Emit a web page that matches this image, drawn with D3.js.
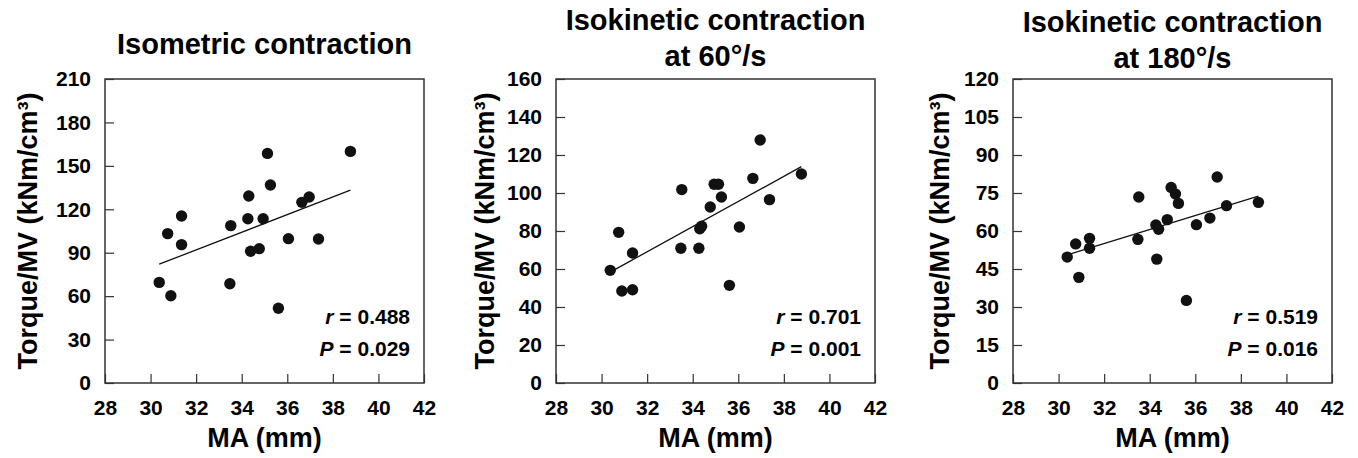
<!DOCTYPE html>
<meta charset='utf-8'>
<title>MA vs Torque/MV</title>
<style>

  body {
    margin: 0;
    background: #fff;
    font-family: 'Liberation Sans', Arial, Helvetica, sans-serif;
  }

  svg {
    display: block;
  }

  text {
    font-weight: bold;
    fill: #000;
  }

  .frame {
    fill: none;
    stroke: #333;
    stroke-width: 1.5px;
  }

  .tick line {
    stroke: #333;
    stroke-width: 1.2px;
  }

  .fit {
    stroke: #111;
    stroke-width: 1.3px;
  }

  .dot {
    fill: #111;
  }

</style>
<body>
<script src='https://cdn.jsdelivr.net/npm/d3@7'></script>
<script>

  // moment arm (mm), same subjects in all three panels
  var ma = [30.38, 30.75, 30.89, 31.36, 31.36, 33.48, 33.52, 34.27, 34.31, 34.39,
            34.77, 34.94, 35.13, 35.26, 35.61, 36.05, 36.64, 36.96, 37.37, 38.77]

  // torque / muscle volume (kNm/cm3)
  var isometric = [69.5, 103.2, 60.3, 115.4, 95.6, 68.6, 108.7, 113.5, 129.2, 91.0,
                   92.8, 113.5, 158.6, 136.8, 51.6, 99.7, 124.8, 128.5, 99.5, 160.0]
  var iso60 = [59.3, 79.3, 48.4, 68.4, 49.1, 70.9, 101.8, 70.9, 81.2, 82.5,
               92.6, 104.6, 104.6, 97.9, 51.4, 82.1, 107.7, 127.9, 96.5, 110.0]
  var iso180 = [49.7, 54.9, 41.7, 57.1, 53.2, 56.7, 73.4, 62.4, 48.9, 60.7,
                64.5, 77.2, 74.6, 70.9, 32.6, 62.5, 65.1, 81.3, 70.0, 71.3]

  var titles = [['Isometric contraction'],
                ['Isokinetic contraction', 'at 60°/s'],
                ['Isokinetic contraction', 'at 180°/s']]
  var series = [isometric, iso60, iso180]
  var yMax = [210, 160, 120]
  var yStep = [30, 20, 15]
  var rValues = ['0.488', '0.701', '0.519']
  var pValues = ['0.029', '0.001', '0.016']
  var xTicks = [28, 30, 32, 34, 36, 38, 40, 42]

  // layout
  var W = 1358, H = 458
  var boxLeft = [105, 556, 1013]
  var boxTop = 79, boxW = 319, boxH = 304
  var titleY = [[54], [30, 66], [32, 68]]
  var yLabelOff = [77, 71, 73]

  var svg = d3.select('body')
  .append('svg')
  .attr('width', W)
  .attr('height', H)

  function fitLine(xs, ys) {
    var mx = d3.mean(xs), my = d3.mean(ys)
    var sxy = d3.sum(xs, function(d, i) { return (d - mx) * (ys[i] - my) })
    var sxx = d3.sum(xs, function(d) { return (d - mx) * (d - mx) })
    var b = sxy / sxx
    return { slope: b, icept: my - b * mx }
  }

  series.forEach(function(vals, k) {

    var g = svg.append('g')
    .attr('transform', 'translate(' + boxLeft[k] + ',' + boxTop + ')')

    var x = d3.scaleLinear().domain([28, 42]).range([0, boxW])
    var y = d3.scaleLinear().domain([0, yMax[k]]).range([boxH, 0])

    /* ------- AXES -------*/
    var xAxis = g.append('g')
    .attr('transform', 'translate(0,' + boxH + ')')
    .call(d3.axisBottom(x).tickValues(xTicks).tickSizeInner(-9).tickSizeOuter(0).tickPadding(17))
    xAxis.select('.domain').remove()

    var yAxis = g.append('g')
    .call(d3.axisLeft(y).tickValues(d3.range(0, yMax[k] + 1, yStep[k])).tickSizeInner(-9).tickSizeOuter(0).tickPadding(14))
    yAxis.select('.domain').remove()

    g.selectAll('.tick text')
    .style('font-size', '21px')
    .style('font-family', 'inherit')
    .attr('fill', '#000')

    g.append('rect')
    .attr('class', 'frame')
    .attr('width', boxW)
    .attr('height', boxH)

    /* ------- FIT LINE -------*/
    var f = fitLine(ma, vals)
    var x0 = d3.min(ma), x1 = d3.max(ma)
    g.append('line')
    .attr('class', 'fit')
    .attr('x1', x(x0)).attr('y1', y(f.icept + f.slope * x0))
    .attr('x2', x(x1)).attr('y2', y(f.icept + f.slope * x1))

    /* ------- DOTS -------*/
    g.selectAll('circle.dot')
    .data(vals)
    .enter()
    .append('circle')
    .attr('class', 'dot')
    .attr('cx', function(d, i) { return x(ma[i]) })
    .attr('cy', function(d) { return y(d) })
    .attr('r', 5.7)

    /* ------- STATS -------*/
    var st = g.append('g')
    .attr('text-anchor', 'end')
    .style('font-size', '21px')

    var rt = st.append('text').attr('x', boxW - 14).attr('y', 245)
    rt.append('tspan').style('font-style', 'italic').text('r')
    rt.append('tspan').text(' = ' + rValues[k])

    var pt = st.append('text').attr('x', boxW - 14).attr('y', 277)
    pt.append('tspan').style('font-style', 'italic').text('P')
    pt.append('tspan').text(' = ' + pValues[k])

    /* ------- LABELS -------*/
    titles[k].forEach(function(line, j) {
      svg.append('text')
      .attr('x', boxLeft[k] + boxW / 2)
      .attr('y', titleY[k][j])
      .attr('text-anchor', 'middle')
      .style('font-size', '29px')
      .text(line)
    })

    svg.append('text')
    .attr('x', boxLeft[k] + boxW / 2)
    .attr('y', 447)
    .attr('text-anchor', 'middle')
    .style('font-size', '27px')
    .text('MA (mm)')

    svg.append('text')
    .attr('transform', 'translate(' + (boxLeft[k] - yLabelOff[k]) + ',' + (boxTop + boxH / 2) + ') rotate(-90)')
    .attr('dy', '0.35em')
    .attr('text-anchor', 'middle')
    .style('font-size', '27px')
    .text('Torque/MV (kNm/cm³)')
  })

</script>
</body>
